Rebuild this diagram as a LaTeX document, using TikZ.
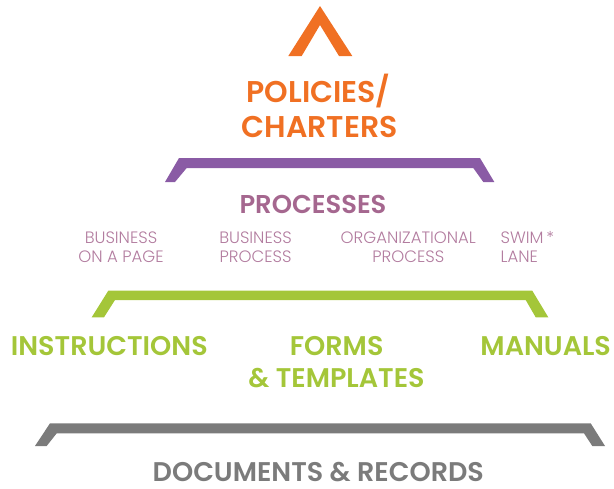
\documentclass[tikz,border=0pt]{standalone}
\usepackage{fontspec}
\setmainfont{Poppins}[BoldFont={Poppins SemiBold}]
\newfontfamily\lightfont{Poppins Light}
\begin{document}
\definecolor{polorange}{HTML}{F07023}
\definecolor{procbar}{HTML}{8A5BA5}
\definecolor{proctext}{HTML}{A5678F}
\definecolor{subtext}{HTML}{B27C9F}
\definecolor{docgreen}{HTML}{A4C639}
\definecolor{recgray}{HTML}{7B7B7B}
\begin{tikzpicture}[x=1pt,y=-1pt,
  title/.style={anchor=base,inner sep=0pt,font=\bfseries\fontsize{#1}{#1}\selectfont},
  sub/.style={anchor=base,inner sep=0pt,text=subtext,font=\lightfont\fontsize{16.5}{16.5}\selectfont}]
\useasboundingbox (0,0) rectangle (614,488);

% apex chevron
\fill[polorange] (288.3,56) -- (320,6) -- (352.3,56) -- (339,56) -- (320,25) -- (301.7,56) -- cycle;

% tier brackets
\fill[procbar] (165,182) -- (179,158) -- (480,158) -- (494.3,182) -- (483.3,182) -- (473.3,168) -- (186.7,168) -- (175,182) -- cycle;
\fill[docgreen] (91.7,317.3) -- (108.3,290.7) -- (532.3,290.7) -- (548.3,317.3) -- (535.7,317.3) -- (525.7,300) -- (115,300) -- (104,317.3) -- cycle;
\fill[recgray] (35,446) -- (50,423.3) -- (590.7,423.3) -- (605,446) -- (592.3,446) -- (584,433.3) -- (56.7,433.3) -- (46.7,446) -- cycle;

% policies
\node[title=30,text=polorange] (pol1) at (318.5,102) {POLICIES/};
\node[title=30,text=polorange] (pol2) at (319.5,137) {CHARTERS};

% processes
\node[title=25.8,text=proctext] (proc) at (313,213) {PROCESSES};
\node[sub] (bop1) at (121,243) {BUSINESS};
\node[sub] (bop2) at (121,262) {ON A PAGE};
\node[sub] (bp1) at (255.5,243) {BUSINESS};
\node[sub] (bp2) at (255.5,262) {PROCESS};
\node[sub] (op1) at (408.3,243) {ORGANIZATIONAL};
\node[sub] (op2) at (408.3,262) {PROCESS};
\node[sub,anchor=base west] (sl1) at (500.5,243) {SWIM\,*};
\node[sub,anchor=base west] (sl2) at (500.5,262) {LANE};

% documents
\node[title=27,text=docgreen] (ins) at (109.3,355) {INSTRUCTIONS};
\node[title=27,text=docgreen] (frm1) at (336.7,355) {FORMS};
\node[title=27,text=docgreen] (frm2) at (336.5,387.3) {\&~TEMPLATES};
\node[title=27,text=docgreen] (man) at (545.7,355) {MANUALS};

% records
\node[title=27,text=recgray] (rec) at (318.3,481.5) {DOCUMENTS \& RECORDS};
\end{tikzpicture}
\end{document}
